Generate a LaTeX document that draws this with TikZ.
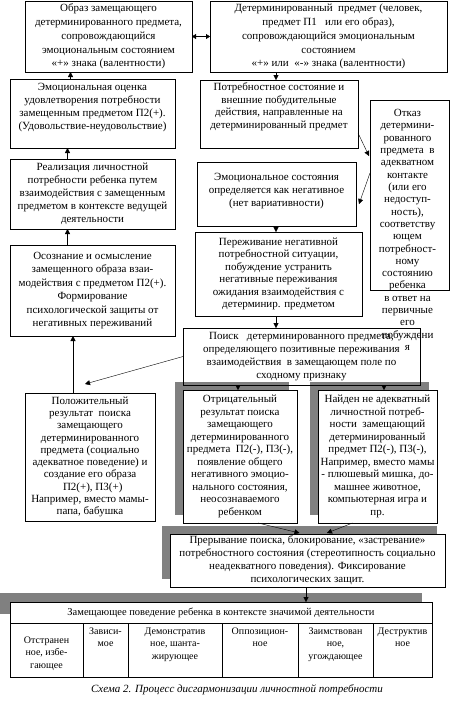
\documentclass[tikz,border=0pt]{standalone}
\usepackage{fontspec}
\setmainfont{Liberation Serif}
\usetikzlibrary{arrows.meta,shadows}
\definecolor{shadowfillcolor}{gray}{0.5}
\setlength{\tabcolsep}{0pt}

\begin{document}
\begin{tikzpicture}[
	x=1pt, y=-1pt,
	blockbox/.style={draw, inner sep=1pt, font=\fontsize{11}{12.5}\selectfont},
	shadowbox/.style={blockbox, fill=white, general shadow={fill=shadowfillcolor,
		shadow xshift=-8pt, shadow yshift=8pt}},
	cellbox/.style={draw, inner sep=2pt, anchor=north, font=\fontsize{10}{12.5}\selectfont},
	connarrow/.style={-{Triangle[length=5pt, width=5pt]}},
	connboth/.style={{Triangle[length=4pt, width=5pt]}-{Triangle[length=4pt, width=5pt]}},
	every node/.style={outer sep=0pt},
]
\useasboundingbox (0,0) rectangle (451,710);
% \blok{centre}{width}{height}{row stretch}[style](name){lines}
\def\blok#1#2#3#4[#5](#6)#7{
	\node[#5, minimum width=#2pt, minimum height=#3pt] at (#1) (#6)
		{\renewcommand{\arraystretch}{#4}\begin{tabular}{c}#7\end{tabular}};
}
% \yacheika{left}{right}{text height}(name){lines}: one cell of the table.
\def\yacheika#1#2#3(#4)#5{
	\node[cellbox, minimum width=#2pt-#1pt, minimum height=54pt,
		text height=#3pt, text depth=50pt-#3pt] at ({(#1+#2)/2},623) (#4)
		{\begin{tabular}[t]{c}#5\end{tabular}};
}
	\blok{108.5,36.5}{167}{71}{1.1}[blockbox](obraz){Образ замещающего\\
		детерминированного предмета,\\ сопровождающийся\\
		эмоциональным состоянием\\ «+» знака (валентности)}
	\blok{328.5,36.5}{237}{71}{1.1}[blockbox](determ){Детерминированный~ предмет (человек,\\
		предмет П1~~ или его образ),\\ сопровождающийся эмоциональным\\
		состоянием\\ «+» или~ «-» знака (валентности)}
	\draw[connboth] (obraz.east) -- (determ.west);

	\blok{92.5,113.5}{165}{69}{1.04}[blockbox](ocenka){Эмоциональная оценка\\
		удовлетворения потребности\\ замещенным предметом П2(+).\\
		(Удовольствие-неудовольствие)\\[12pt]}
	\blok{92.5,194}{165}{70}{1.04}[blockbox](realiz){Реализация личностной\\
		потребности ребенка путем\\ взаимодействия с замещенным\\
		предметом в контексте ведущей\\ деятельности}
	\blok{92.5,290.5}{165}{91}{1.08}[blockbox](osozn){Осознание и осмысление\\
		замещенного образа взаи-\\ модействия с предметом П2(+).\\
		Формирование\\ психологической защиты от\\ негативных переживаний}
	\blok{90,457}{130}{128}{0.98}[blockbox](polozh){Положительный\\
		результат~ поиска\\ замещающего\\ детерминированного\\
		предмета (социально\\ адекватное поведение) и\\ создание его образа\\
		~~П2(+), П3(+)\\ Например, вместо мамы-\\ папа, бабушка}
	\draw[connarrow] ([xshift=-22pt]ocenka.north) -- ([xshift=-22pt]ocenka.north |- obraz.south);
	\draw[connarrow] ([xshift=-25pt]realiz.north) -- ([xshift=-25pt]realiz.north |- ocenka.south);
	\draw[connarrow] ([xshift=-25pt]osozn.north) -- ([xshift=-25pt]osozn.north |- realiz.south);
	\draw[connarrow] ([xshift=-17pt]polozh.north) -- ([xshift=-17pt]polozh.north |- osozn.south);

	\blok{279,114}{158}{68}{1.02}[blockbox](potreb){Потребностное состояние и\\
		внешние побудительные\\ действия, направленные на\\
		детерминированный предмет\\[14pt]}
	\node[draw, minimum width=79pt, minimum height=190pt] at (409.5,195) (otkaz) {};
	\node[anchor=north, inner sep=0pt, font=\fontsize{11}{12.5}\selectfont]
		at ([shift={(-2,8)}]otkaz.north) (otkaztext)
		{\renewcommand{\arraystretch}{0.985}\begin{tabular}{c}Отказ\\ детермини-\\
		рованного\\ предмета~ в\\ адекватном\\ контакте\\ (или его\\ недоступ-\\
		ность),\\ соответству\\ ющем\\ потребност-\\ ному\\ состоянию\\ ребенка\\
		в ответ на\\ первичные\\ его\\ побуждени\\ я\end{tabular}};
	\blok{276.5,194}{159}{64}{1.06}[blockbox](emsost){Эмоциональное состояния\\
		определяется как негативное\\ (нет вариативности)\\[6pt]}
	\blok{278.5,274}{167}{84}{1.0}[blockbox](perezh){Переживание негативной\\
		потребностной ситуации,\\ побуждение устранить\\ негативные переживания\\
		ожидания взаимодействия с\\ детерминир. предметом}
	\draw[connarrow] ([xshift=-3pt]potreb.north |- determ.south) -- ([xshift=-3pt]potreb.north);
	\draw[connarrow] ([shift={(0,19)}]potreb.east) -- ([shift={(-1,-39)}]otkaz.west);
	\draw[connarrow] ([shift={(0,-22)}]otkaz.west) -- ([shift={(3,10)}]emsost.east);
	\draw[connarrow] ([xshift=-2.5pt]perezh.north |- emsost.south) -- ([xshift=-2.5pt]perezh.north);

	\blok{240,456.5}{114}{133}{1.0}[shadowbox](otric){Отрицательный\\
		результат поиска\\ замещающего\\ детерминированного\\
		предмета~ П2(-), П3(-),\\ появление общего\\ негативного эмоцио-\\
		нального состояния,\\ неосознаваемого\\ ребенком}
	\blok{377.5,456.5}{119}{133}{1.0}[shadowbox](naiden){Найден не адекватный\\
		личностной потреб-\\ ности~ замещающий\\ детерминированный\\
		предмет П2(-), П3(-),\\ Например, вместо мамы\\ - плюшевый мишка, до-\\
		машнее животное,\\ компьютерная игра и\\ пр.}
	\blok{301.5,356.5}{237}{57}{1.04}[blockbox](poisk){Поиск~~ детерминированного предмета,\\
		определяющего позитивные переживания\\ взаимодействия~ в замещающем поле по\\
		сходному признаку}
	\draw[connarrow] ([xshift=-2.5pt]perezh.south) -- ([xshift=-2.5pt]perezh.south |- poisk.north);
	\draw[connarrow] (poisk.west) -- ([shift={(-5,-9)}]polozh.north);
	\draw[connarrow] ([xshift=-2pt]otric.north |- poisk.south) -- ([xshift=-2pt]otric.north);
	\draw[connarrow] ([xshift=6.5pt]naiden.north |- poisk.south) -- ([xshift=6.5pt]naiden.north);

	\blok{307.5,560.5}{275}{53}{1.02}[shadowbox](preryv){Прерывание поиска, блокирование, «застревание»\\
		потребностного состояния (стереотипность социально\\
		неадекватного поведения). Фиксирование\\ психологических защит.}
	\draw[connarrow] ([xshift=18pt]otric.south) -- ([shift={(-8,-1)}]preryv.north);
	\draw[connarrow] ([xshift=-25pt]naiden.south) -- ([shift={(19.5,-1)}]preryv.north);

	% table of behaviour types
	\node[draw, fill=white, minimum width=422pt, minimum height=21pt, inner sep=1pt,
		font=\fontsize{10.5}{12.5}\selectfont,
		general shadow={fill=shadowfillcolor, shadow xshift=-10pt, shadow yshift=9pt}]
		at (221,612.5) (zamesh) {Замещающее поведение ребенка в контексте значимой деятельности};
	\draw[connarrow] ([xshift=-1.5pt]preryv.south) -- ([xshift=-1.5pt]preryv.south |- zamesh.north);
	\yacheika{10}{83}{18}(otstr){Отстранен\\ ное, избе-\\ гающее}
	\yacheika{83}{128}{9}(zavis){Зависи-\\ мое}
	\yacheika{128}{222}{9}(demonstr){Демонстратив\\ ное, шанта-\\ жирующее}
	\yacheika{222}{298}{9}(oppoz){Оппозицион-\\ ное}
	\yacheika{298}{373}{9}(zaimstv){Заимствован\\ ное,\\ угождающее}
	\yacheika{373}{432}{9}(destr){Деструктив\\ ное}

	\node[font=\itshape\fontsize{11}{13}\selectfont] at (237,690) (caption)
		{Схема 2. Процесс дисгармонизации личностной потребности};
\end{tikzpicture}
\end{document}
